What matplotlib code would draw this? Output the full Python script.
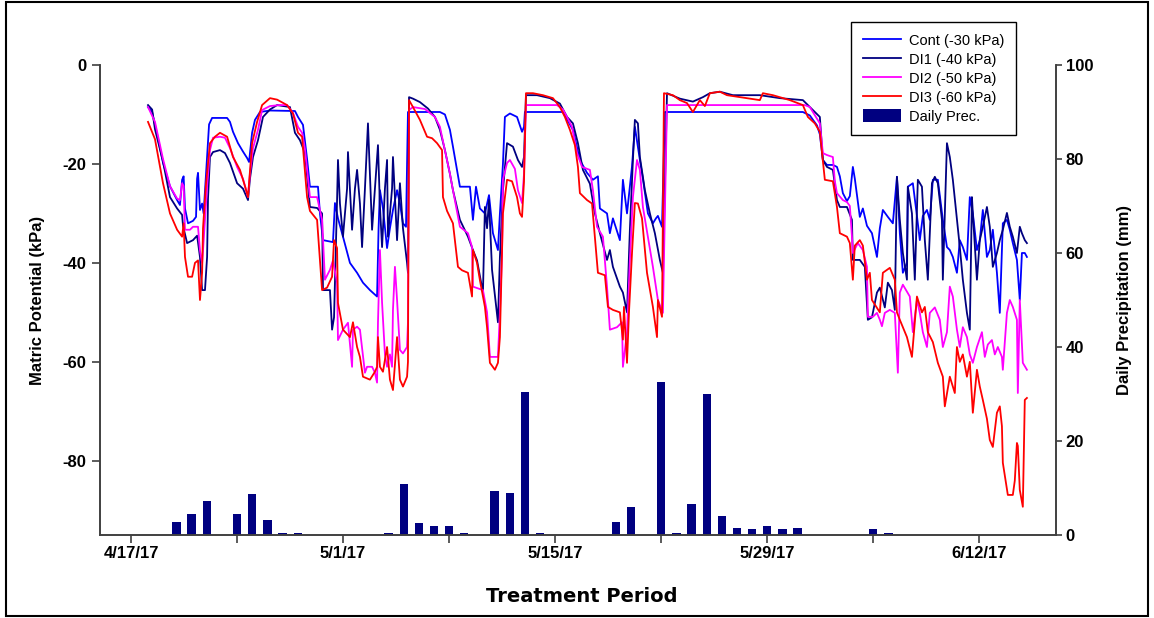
import datetime as dt
import matplotlib
matplotlib.use('Agg')
import matplotlib.pyplot as plt
import matplotlib.dates as mdates
from matplotlib.patches import Rectangle

plt.rcParams['font.family'] = ['Liberation Sans', 'DejaVu Sans']
plt.rcParams['axes.unicode_minus'] = False

start = dt.datetime(2017, 4, 17)

# matric potential readings: (days after 4/17/17, kPa)
cont = [(1.12,-8.5),(1.39,-9.5),(1.72,-14.0),(2.11,-19.8),(2.57,-24.5),(3.04,-27.3),(3.23,-28.3),(3.37,-23.2),
        (3.47,-22.5),(3.56,-29.0),(3.76,-32.0),(4.09,-31.5),(4.29,-30.7),(4.36,-23.0),(4.42,-21.8),(4.55,-29.3),
        (4.69,-28.0),(4.79,-30.0),(5.02,-18.6),(5.15,-12.0),(5.35,-10.7),(6.34,-10.7),(6.53,-11.5),(6.73,-13.5),
        (7.06,-15.8),(7.39,-17.5),(7.66,-18.8),(7.79,-19.6),(7.99,-13.7),(8.18,-11.1),(8.51,-9.5),(9.17,-9.2),
        (10.82,-9.3),(11.02,-10.5),(11.35,-12.1),(11.62,-19.0),(11.81,-24.6),(12.34,-24.6),(12.47,-30.0),(12.67,-35.4),
        (13.33,-35.8),(13.46,-27.9),(13.66,-31.0),(13.99,-34.7),(14.45,-40.0),(14.92,-42.0),(15.31,-44.0),(15.77,-45.5),
        (16.24,-46.8),(16.34,-33.0),(16.43,-25.3),(16.63,-29.0),(16.90,-37.0),(17.09,-33.0),(17.29,-29.3),(17.56,-25.3),
        (17.75,-28.0),(17.95,-32.0),(18.15,-32.7),(18.28,-9.5),(20.39,-9.5),(20.72,-10.0),(21.05,-13.1),(21.25,-16.5),
        (21.71,-24.6),(22.37,-24.6),(22.57,-31.3),(22.77,-24.6),(23.03,-29.0),(23.36,-30.0),(23.63,-26.3),(23.89,-34.0),
        (24.22,-37.4),(24.35,-30.0),(24.55,-20.0),(24.68,-10.5),(25.01,-9.8),(25.48,-10.5),(25.81,-13.5),(25.94,-12.5),
        (26.00,-9.5),(28.51,-9.5),(28.78,-11.0),(29.17,-13.1),(29.63,-19.2),(30.10,-21.8),(30.49,-23.2),(30.82,-22.5),
        (30.95,-29.0),(31.42,-30.0),(31.61,-34.0),(31.81,-31.0),(32.27,-35.4),(32.47,-23.2),(32.74,-30.0),(33.07,-20.5),
        (33.26,-12.5),(33.59,-19.2),(33.79,-23.0),(34.12,-30.0),(34.45,-32.0),(34.65,-31.0),(34.78,-30.5),(35.05,-32.7),
        (35.24,-9.5),(44.35,-9.5),(44.81,-10.2),(45.28,-12.2),(45.47,-14.0),(45.67,-19.2),(45.94,-20.2),(46.33,-20.2),
        (46.60,-20.6),(46.79,-22.5),(46.99,-25.9),(47.26,-27.5),(47.45,-26.5),(47.65,-20.6),(47.78,-23.0),(48.11,-30.7),
        (48.31,-29.0),(48.58,-32.5),(48.91,-34.0),(49.24,-38.8),(49.43,-33.0),(49.63,-29.3),(49.96,-30.7),(50.29,-32.0),
        (50.56,-22.6),(50.75,-34.0),(50.95,-42.0),(51.22,-40.0),(51.28,-24.6),(51.61,-23.9),(51.88,-30.5),(52.07,-35.4),
        (52.27,-30.5),(52.54,-29.3),(52.73,-31.3),(52.93,-23.2),(53.26,-23.2),(53.59,-31.3),(53.86,-36.8),(54.05,-37.4),
        (54.25,-38.8),(54.52,-42.0),(54.71,-35.4),(54.91,-36.8),(55.18,-39.4),(55.37,-26.7),(55.57,-30.0),(55.84,-37.4),
        (56.03,-35.4),(56.23,-29.3),(56.50,-38.8),(56.69,-37.4),(56.89,-33.3),(57.16,-42.0),(57.35,-50.1),(57.55,-32.0),
        (57.82,-31.3),(58.01,-33.3),(58.21,-36.0),(58.48,-39.4),(58.67,-47.5),(58.81,-38.0),(59.00,-38.0),(59.14,-38.8)]

di1 = [(1.12,-8.1),(1.39,-9.0),(1.58,-13.0),(2.11,-19.5),(2.57,-26.7),(3.04,-29.0),(3.37,-30.3),(3.43,-32.5),
       (3.70,-36.0),(4.09,-35.4),(4.36,-34.5),(4.55,-38.8),(4.69,-45.5),(4.88,-45.5),(5.02,-38.8),(5.08,-27.0),
       (5.21,-18.6),(5.41,-17.6),(5.87,-17.2),(6.20,-17.8),(6.53,-19.8),(7.00,-23.9),(7.39,-25.0),(7.72,-27.3),
       (7.85,-23.0),(8.05,-18.6),(8.38,-15.2),(8.71,-10.5),(9.17,-9.0),(9.64,-8.1),(10.49,-8.5),(10.82,-13.7),
       (11.15,-15.2),(11.48,-17.8),(11.81,-28.7),(12.28,-28.9),(12.61,-30.0),(12.67,-45.5),(13.13,-45.5),(13.27,-53.5),
       (13.40,-51.0),(13.60,-27.3),(13.66,-19.2),(13.79,-28.0),(13.99,-34.7),(14.26,-25.0),(14.32,-17.6),(14.45,-25.0),
       (14.59,-33.3),(14.78,-25.0),(14.92,-21.2),(15.11,-28.0),(15.25,-36.8),(15.44,-25.0),(15.64,-11.8),(15.77,-22.0),
       (15.91,-33.3),(16.10,-25.0),(16.30,-16.2),(16.43,-28.5),(16.57,-36.8),(16.76,-25.0),(16.90,-19.2),(16.96,-34.7),
       (17.23,-25.0),(17.29,-18.6),(17.56,-35.4),(17.75,-23.9),(17.95,-33.0),(18.22,-40.0),(18.28,-42.0),(18.35,-6.5),
       (18.61,-6.8),(19.07,-7.5),(19.60,-8.8),(20.06,-10.5),(20.39,-13.1),(20.72,-17.2),(21.05,-22.0),(21.25,-25.3),
       (21.71,-31.3),(22.24,-34.7),(22.57,-37.4),(22.84,-39.5),(23.23,-46.0),(23.36,-28.7),(23.50,-33.0),(23.63,-27.3),
       (23.83,-41.4),(24.22,-52.0),(24.35,-38.8),(24.55,-25.3),(24.82,-15.8),(25.21,-16.5),(25.54,-19.2),(25.81,-20.6),
       (25.94,-18.6),(26.07,-6.1),(26.80,-6.1),(27.65,-6.7),(28.31,-7.8),(28.78,-10.5),(29.17,-11.8),(29.50,-15.8),
       (29.83,-21.2),(30.29,-24.0),(30.62,-30.0),(30.95,-34.0),(31.42,-39.4),(31.61,-37.4),(31.81,-40.8),(32.27,-44.8),
       (32.47,-46.0),(32.74,-50.0),(32.93,-33.3),(33.13,-19.2),(33.26,-11.1),(33.46,-11.8),(33.59,-18.6),(33.92,-25.3),
       (34.25,-30.0),(34.58,-34.0),(34.91,-39.4),(35.11,-42.0),(35.38,-5.7),(36.23,-6.8),(37.09,-7.4),(37.75,-6.5),
       (38.21,-5.7),(38.87,-5.4),(39.73,-6.1),(41.51,-6.1),(42.83,-6.7),(44.35,-7.1),(45.01,-9.1),(45.47,-10.5),
       (45.67,-19.2),(45.94,-20.6),(46.33,-21.2),(46.60,-27.3),(46.79,-28.7),(47.26,-28.7),(47.59,-31.3),(47.65,-39.4),
       (48.11,-39.4),(48.44,-40.8),(48.64,-51.5),(48.91,-51.0),(49.24,-46.0),(49.43,-45.0),(49.76,-49.0),(49.96,-44.0),
       (50.23,-45.5),(50.42,-49.5),(50.56,-22.6),(50.75,-31.3),(50.95,-38.0),(51.22,-43.4),(51.28,-24.6),(51.55,-30.0),
       (51.74,-43.4),(51.94,-23.2),(52.21,-24.6),(52.40,-35.4),(52.60,-43.4),(52.87,-23.9),(53.06,-22.6),(53.26,-23.9),
       (53.53,-31.3),(53.59,-43.4),(53.86,-15.8),(54.05,-18.6),(54.25,-23.2),(54.52,-31.3),(54.71,-36.8),(54.91,-43.4),
       (55.18,-50.1),(55.37,-53.5),(55.51,-26.7),(55.57,-30.0),(55.84,-43.4),(56.03,-35.4),(56.23,-32.7),(56.50,-28.7),
       (56.69,-32.7),(56.89,-40.8),(57.16,-38.0),(57.35,-35.4),(57.55,-33.3),(57.82,-29.9),(58.01,-32.7),(58.21,-34.7),
       (58.48,-38.0),(58.67,-32.7),(58.81,-34.0),(59.00,-35.4),(59.14,-36.0)]

di2 = [(1.12,-8.5),(1.58,-11.5),(2.11,-19.0),(2.57,-24.5),(3.04,-27.0),(3.23,-27.3),(3.37,-23.9),(3.47,-24.5),
       (3.56,-33.3),(3.89,-33.3),(4.09,-32.7),(4.42,-32.7),(4.55,-37.5),(4.69,-40.0),(4.75,-37.5),(5.02,-24.5),
       (5.21,-17.2),(5.41,-14.7),(5.87,-14.5),(6.20,-14.7),(6.53,-16.8),(7.00,-20.6),(7.39,-23.0),(7.72,-26.7),
       (7.85,-22.0),(8.05,-16.8),(8.38,-13.1),(8.65,-9.1),(9.17,-8.3),(9.83,-8.1),(10.30,-8.1),(10.69,-9.7),
       (11.02,-12.5),(11.29,-13.7),(11.48,-17.0),(11.81,-26.7),(12.28,-26.7),(12.61,-31.3),(12.80,-43.4),(13.13,-41.4),
       (13.33,-39.5),(13.60,-44.0),(13.66,-55.6),(13.99,-53.5),(14.32,-52.1),(14.59,-61.0),(14.65,-53.5),(14.92,-52.9),
       (15.11,-53.5),(15.44,-62.2),(15.58,-61.0),(15.91,-61.0),(16.10,-62.2),(16.24,-64.2),(16.30,-52.1),(16.43,-37.4),
       (16.57,-48.0),(16.76,-58.5),(16.90,-61.0),(17.09,-58.5),(17.23,-61.0),(17.29,-49.5),(17.42,-40.8),(17.56,-47.5),
       (17.75,-57.6),(17.95,-58.3),(18.22,-57.0),(18.28,-52.0),(18.35,-9.1),(18.61,-8.5),(19.40,-8.9),(20.06,-10.5),
       (20.39,-12.5),(20.72,-17.2),(21.05,-22.0),(21.25,-25.3),(21.71,-32.7),(22.24,-34.0),(22.51,-36.8),(22.57,-44.8),
       (23.23,-45.5),(23.50,-50.0),(23.69,-59.0),(24.22,-59.0),(24.35,-50.1),(24.49,-38.0),(24.55,-23.2),(24.82,-19.8),
       (25.01,-19.2),(25.34,-21.0),(25.54,-25.3),(25.81,-27.9),(25.94,-22.0),(26.07,-8.1),(28.12,-8.1),(28.51,-9.0),
       (28.78,-10.5),(29.11,-12.5),(29.44,-17.8),(29.77,-20.6),(30.29,-21.2),(30.49,-25.3),(30.76,-32.7),(31.15,-34.7),
       (31.42,-44.8),(31.61,-53.5),(32.08,-53.0),(32.41,-52.0),(32.47,-61.0),(32.74,-54.0),(32.93,-39.5),(33.13,-26.7),
       (33.40,-19.2),(33.59,-21.2),(33.79,-28.7),(34.12,-34.7),(34.45,-40.8),(34.78,-47.5),(35.11,-50.1),(35.38,-8.1),
       (44.48,-8.1),(44.81,-8.5),(45.01,-9.5),(45.47,-11.8),(45.67,-17.8),(45.94,-18.2),(46.33,-18.6),(46.46,-23.5),
       (46.60,-25.9),(46.99,-27.3),(47.26,-27.7),(47.45,-28.5),(47.59,-34.7),(47.65,-38.0),(47.98,-36.0),(48.31,-37.4),
       (48.58,-40.8),(48.64,-50.9),(48.97,-50.9),(49.24,-50.1),(49.43,-51.5),(49.57,-52.8),(49.76,-50.1),(50.09,-49.5),
       (50.42,-50.1),(50.62,-62.2),(50.75,-46.0),(50.95,-44.4),(51.41,-46.8),(51.61,-54.0),(51.88,-47.5),(52.07,-50.1),
       (52.27,-54.0),(52.54,-57.0),(52.73,-50.1),(53.06,-49.0),(53.39,-51.5),(53.59,-57.0),(53.86,-54.0),(54.05,-44.8),
       (54.25,-46.8),(54.52,-53.5),(54.71,-57.0),(54.91,-53.0),(55.18,-55.0),(55.37,-58.5),(55.57,-60.2),(55.84,-57.0),
       (56.17,-54.0),(56.36,-59.0),(56.56,-56.5),(56.83,-55.6),(57.02,-58.5),(57.22,-57.0),(57.49,-59.0),(57.55,-61.6),
       (57.82,-50.1),(58.01,-47.5),(58.21,-48.9),(58.48,-51.5),(58.54,-66.3),(58.67,-47.5),(58.87,-60.2),(59.14,-61.6)]

di3 = [(1.12,-11.5),(1.58,-15.0),(2.11,-23.9),(2.57,-30.0),(3.04,-33.3),(3.37,-34.7),(3.47,-32.0),(3.56,-38.8),
       (3.76,-42.8),(4.03,-42.8),(4.22,-40.0),(4.42,-39.5),(4.55,-47.5),(4.69,-42.0),(4.75,-33.0),(4.95,-23.9),
       (5.21,-15.8),(5.54,-14.5),(5.87,-13.7),(6.34,-14.5),(6.73,-18.6),(7.19,-21.2),(7.52,-24.5),(7.72,-26.7),
       (7.99,-15.8),(8.32,-11.5),(8.65,-8.1),(9.17,-6.7),(9.64,-7.0),(10.30,-8.1),(10.69,-9.8),(11.02,-13.7),
       (11.29,-14.5),(11.62,-26.7),(11.81,-29.5),(12.28,-31.3),(12.61,-45.5),(12.94,-45.0),(13.27,-42.8),(13.40,-35.4),
       (13.60,-37.0),(13.66,-48.1),(13.99,-53.5),(14.45,-55.0),(14.65,-52.0),(14.92,-57.0),(15.11,-59.0),(15.31,-63.0),
       (15.77,-63.6),(16.10,-62.0),(16.24,-61.0),(16.30,-55.0),(16.43,-61.0),(16.63,-62.0),(16.90,-57.0),(17.09,-63.6),
       (17.29,-65.7),(17.56,-55.0),(17.75,-63.6),(17.95,-65.0),(18.22,-63.0),(18.28,-60.0),(18.35,-7.1),(18.61,-8.5),
       (19.07,-11.1),(19.54,-14.5),(19.87,-14.8),(20.20,-15.8),(20.53,-17.2),(20.59,-26.7),(20.86,-29.5),(21.25,-32.0),
       (21.58,-40.8),(21.85,-41.5),(22.24,-42.0),(22.51,-46.8),(22.57,-37.4),(22.84,-40.0),(23.03,-43.5),(23.36,-48.9),
       (23.50,-53.0),(23.69,-60.2),(24.02,-61.6),(24.22,-60.2),(24.35,-55.0),(24.49,-38.0),(24.55,-30.0),(24.82,-23.2),
       (25.15,-23.5),(25.48,-26.7),(25.67,-30.0),(25.81,-30.7),(25.94,-23.5),(26.07,-5.7),(26.53,-5.7),(27.19,-6.1),
       (27.85,-6.7),(28.31,-8.5),(28.64,-10.5),(28.97,-13.1),(29.30,-16.2),(29.50,-20.6),(29.63,-25.9),(30.10,-27.3),
       (30.43,-28.0),(30.62,-34.7),(30.82,-42.0),(31.28,-42.5),(31.48,-48.9),(31.81,-49.5),(32.27,-50.0),(32.47,-55.5),
       (32.54,-48.9),(32.74,-60.2),(32.87,-50.0),(33.07,-38.0),(33.26,-27.9),(33.46,-28.0),(33.73,-31.0),(34.06,-42.0),
       (34.45,-48.9),(34.72,-55.0),(34.78,-47.5),(35.05,-50.9),(35.18,-5.7),(35.77,-6.1),(36.23,-7.1),(36.70,-7.7),
       (37.09,-9.5),(37.55,-7.1),(37.88,-8.3),(38.21,-5.7),(38.87,-5.4),(39.34,-6.1),(40.19,-6.5),(41.51,-7.1),
       (41.71,-5.7),(42.37,-6.1),(43.49,-7.1),(44.35,-8.1),(44.68,-10.5),(45.14,-11.8),(45.47,-13.5),(45.67,-19.5),
       (45.80,-23.2),(46.33,-23.5),(46.60,-28.7),(46.79,-34.0),(47.26,-34.7),(47.45,-36.0),(47.65,-43.4),(47.78,-36.5),
       (48.11,-35.4),(48.31,-36.5),(48.58,-43.4),(48.77,-42.0),(48.91,-47.5),(49.43,-50.0),(49.63,-42.0),(50.09,-41.0),
       (50.42,-43.4),(50.56,-50.0),(50.75,-51.5),(51.22,-55.0),(51.55,-59.0),(51.88,-46.8),(52.21,-50.0),(52.40,-48.9),
       (52.60,-54.0),(52.93,-56.0),(53.26,-60.2),(53.59,-63.0),(53.72,-69.0),(54.05,-63.0),(54.38,-66.3),(54.52,-57.0),
       (54.71,-60.0),(54.91,-58.5),(55.18,-63.0),(55.37,-60.0),(55.57,-70.3),(55.84,-61.6),(56.03,-65.0),(56.23,-67.7),
       (56.50,-71.5),(56.69,-75.8),(56.89,-77.2),(57.16,-70.3),(57.35,-69.0),(57.49,-73.0),(57.55,-80.4),(57.88,-86.9),
       (58.21,-86.9),(58.34,-84.0),(58.48,-76.4),(58.54,-77.0),(58.67,-85.9),(58.87,-89.3),(59.00,-67.7),(59.14,-67.3)]

# daily rainfall (days after 4/17/17, mm)
rain_day = [3, 4, 5, 7, 8, 9, 10, 11, 17, 18, 19, 20, 21, 22, 24, 25, 26, 27,
            32, 33, 35, 36, 37, 38, 39, 40, 41, 42, 43, 44, 49, 50]
rain_mm = [2.8, 4.5, 7.2, 4.5, 8.7, 3.2, 0.4, 0.4, 0.4, 10.9, 2.5, 1.9, 1.9, 0.4, 9.4, 9.0, 30.4, 0.4,
           2.7, 6.0, 32.5, 0.4, 6.6, 30.0, 4.0, 1.5, 1.3, 2.0, 1.3, 1.5, 1.3, 0.4]

series = [(cont, '#0000FF', 'Cont (-30 kPa)'),
          (di1, '#000080', 'DI1 (-40 kPa)'),
          (di2, '#FF00FF', 'DI2 (-50 kPa)'),
          (di3, '#FF0000', 'DI3 (-60 kPa)')]

t0 = mdates.date2num(start)

fig = plt.figure(figsize=(11.54, 6.18), dpi=100)
ax = fig.add_axes([100/1154, 1 - 535/618, 956/1154, 470/618])
ax2 = ax.twinx()

for data, col, lab in series:
    ax.plot([t0 + d for d, v in data], [v for d, v in data], color=col, lw=1.3, label=lab)

ax2.bar([t0 + d for d in rain_day], rain_mm, width=0.55, color='#000080', label='Daily Prec.')

# lines above the bars
ax.set_zorder(ax2.get_zorder() + 1)
ax.patch.set_visible(False)

ax.set_xlim(t0 - 2.05, t0 + 61.06)
ax.set_ylim(-95, 0)
ax.set_yticks([0, -20, -40, -60, -80])
ax2.set_ylim(0, 100)
ax2.set_yticks([0, 20, 40, 60, 80, 100])

ticks = [t0 + 7*k for k in range(9)]
labels = []
for k, tk in enumerate(ticks):
    d = mdates.num2date(tk)
    labels.append('%d/%d/%d' % (d.month, d.day, d.year % 100) if k % 2 == 0 else '')
ax.set_xticks(ticks)
ax.set_xticklabels(labels)

spine_col = '#404040'
for a in (ax, ax2):
    a.spines['top'].set_visible(False)
    for s in ('left', 'right', 'bottom'):
        a.spines[s].set_color(spine_col)
        a.spines[s].set_linewidth(1.2)

ax.tick_params(axis='x', direction='out', length=6, width=1.2, color=spine_col, pad=2)
ax.tick_params(axis='y', direction='out', length=6, width=1.2, color=spine_col, pad=4)
ax2.tick_params(axis='y', direction='out', length=4, width=1.2, color=spine_col, pad=3)
for lbl in ax.get_xticklabels() + ax.get_yticklabels() + ax2.get_yticklabels():
    lbl.set_fontsize(12)
    lbl.set_fontweight('bold')

ax.set_ylabel('Matric Potential (kPa)', fontsize=12, fontweight='bold')
ax.yaxis.set_label_coords(-0.058, 0.5)
ax2.set_ylabel('Daily Precipitation (mm)', fontsize=12, fontweight='bold')
ax2.yaxis.set_label_coords(1.064, 0.5)
ax.set_xlabel('Treatment Period', fontsize=14, fontweight='bold', family='DejaVu Sans')
ax.xaxis.set_label_coords(0.504, -0.11)

h1, l1 = ax.get_legend_handles_labels()
h2, l2 = ax2.get_legend_handles_labels()
leg = fig.legend(h1 + h2, l1 + l2, loc='upper left', bbox_to_anchor=(851/1154, 1 - 22/618),
                 borderaxespad=0, fancybox=False, framealpha=1, edgecolor='black', fontsize=10.5,
                 handlelength=2.6, handleheight=1.0, handletextpad=0.55, labelspacing=0.3, borderpad=0.8)
leg.get_frame().set_linewidth(1.0)

# outer frame
fig.patches.append(Rectangle((0.005, 0.003), 0.99, 0.994, transform=fig.transFigure,
                             fill=False, edgecolor='black', lw=1.5))

fig.savefig('out.png', dpi=100)
